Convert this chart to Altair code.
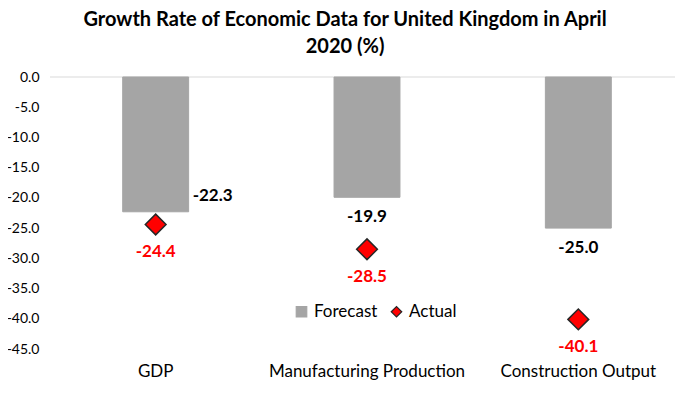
import altair as alt
import pandas as pd

categories = ["GDP", "Manufacturing Production", "Construction Output"]
forecast = [-22.3, -19.9, -25.0]
actual = [-24.4, -28.5, -40.1]
y_ticks = [0, -5, -10, -15, -20, -25, -30, -35, -40, -45]

rows = []
for c, f, a in zip(categories, forecast, actual):
    rows.append({"category": c, "series": "Forecast", "value": f})
    rows.append({"category": c, "series": "Actual", "value": a})
df = pd.DataFrame(rows)

FONT = "Lato"
LABEL_EXPR = "replace(format(datum.value, '.1f'), '\u2212', '-')"

x_enc = alt.X(
    "category:N",
    sort=categories,
    scale=alt.Scale(range=[0, 634], paddingInner=0.688, paddingOuter=0.344),
    axis=alt.Axis(title=None, labelAngle=0, domain=False, ticks=False,
                  labelPadding=14, labelFontSize=17, labelFont=FONT,
                  labelColor="#000000", labelLimit=400),
)
y_scale = alt.Scale(domain=[-45, 0], nice=False, zero=False)
y_axis = alt.Axis(title=None, values=y_ticks, tickCount=20, labelExpr=LABEL_EXPR,
                  grid=False, domain=False, ticks=False, labelPadding=11,
                  labelOverlap=False, labelFontSize=14, labelFont=FONT,
                  labelColor="#000000")

series_domain = ["Forecast", "Actual"]
color_scale = alt.Scale(domain=series_domain, range=["#a5a5a5", "#ff0000"])
shape_scale = alt.Scale(domain=series_domain, range=["square", "diamond"])
stroke_scale = alt.Scale(domain=series_domain, range=["#a5a5a5", "#262626"])
legend = alt.Legend(title=None, orient="none", legendX=243, legendY=226,
                    direction="horizontal", labelFontSize=17, labelFont=FONT,
                    labelColor="#000000", symbolSize=110, columnPadding=10,
                    labelOffset=4, symbolStrokeWidth=1.2)

base = alt.Chart(df).transform_calculate(
    label="replace(format(datum.value, '.1f'), '\u2212', '-')"
)

zero_line = alt.Chart(pd.DataFrame({"value": [0]})).mark_rule(
    color="#d9d9d9", strokeWidth=1
).encode(y=alt.Y("value:Q", scale=y_scale, axis=y_axis))

bars = base.transform_filter(alt.datum.series == "Forecast").mark_bar().encode(
    x=x_enc,
    y=alt.Y("value:Q", scale=y_scale, axis=y_axis),
    color=alt.Color("series:N", scale=color_scale, legend=legend),
    stroke=alt.Stroke("series:N", scale=stroke_scale, legend=legend),
)

points = base.transform_filter(alt.datum.series == "Actual").mark_point(
    filled=True, size=430, strokeWidth=1.5, opacity=1
).encode(
    x=alt.X("category:N", sort=categories),
    y=alt.Y("value:Q", scale=y_scale, axis=y_axis),
    color=alt.Color("series:N", scale=color_scale, legend=legend),
    shape=alt.Shape("series:N", scale=shape_scale, legend=legend),
    stroke=alt.Stroke("series:N", scale=stroke_scale, legend=legend),
)

fc_right = base.transform_filter(
    (alt.datum.series == "Forecast") & (alt.datum.category == "GDP")
).mark_text(align="left", baseline="middle", dx=37, dy=-16, fontSize=17,
            fontWeight="bold", font=FONT, color="#000000").encode(
    x=alt.X("category:N", sort=categories), y=alt.Y("value:Q"),
    text=alt.Text("label:N"))

fc_below = base.transform_filter(
    (alt.datum.series == "Forecast") & (alt.datum.category != "GDP")
).mark_text(align="center", baseline="middle", dy=20, fontSize=17,
            fontWeight="bold", font=FONT, color="#000000").encode(
    x=alt.X("category:N", sort=categories), y=alt.Y("value:Q"),
    text=alt.Text("label:N"))

act_labels = base.transform_filter(alt.datum.series == "Actual").mark_text(
    align="center", baseline="middle", dy=28, fontSize=17, fontWeight="bold",
    font=FONT, color="#ff0000").encode(
    x=alt.X("category:N", sort=categories), y=alt.Y("value:Q"),
    text=alt.Text("label:N"))

chart = alt.layer(zero_line, bars, points, fc_right, fc_below, act_labels).properties(
    width=625,
    height=272,
    title=alt.TitleParams(
        text=["Growth Rate of Economic Data for United Kingdom in April", "2020 (%)"],
        fontSize=20, fontWeight="bold", font=FONT, color="#000000",
        anchor="middle", frame="bounds", offset=13, lineHeight=27,
    ),
    autosize=alt.AutoSizeParams(type="none"),
    padding={"left": 42, "top": 69, "right": 0, "bottom": 40},
).configure_view(stroke=None).configure_axis(labelFont=FONT)

chart.save("out.html", embed_options={"renderer": "svg", "actions": False})
